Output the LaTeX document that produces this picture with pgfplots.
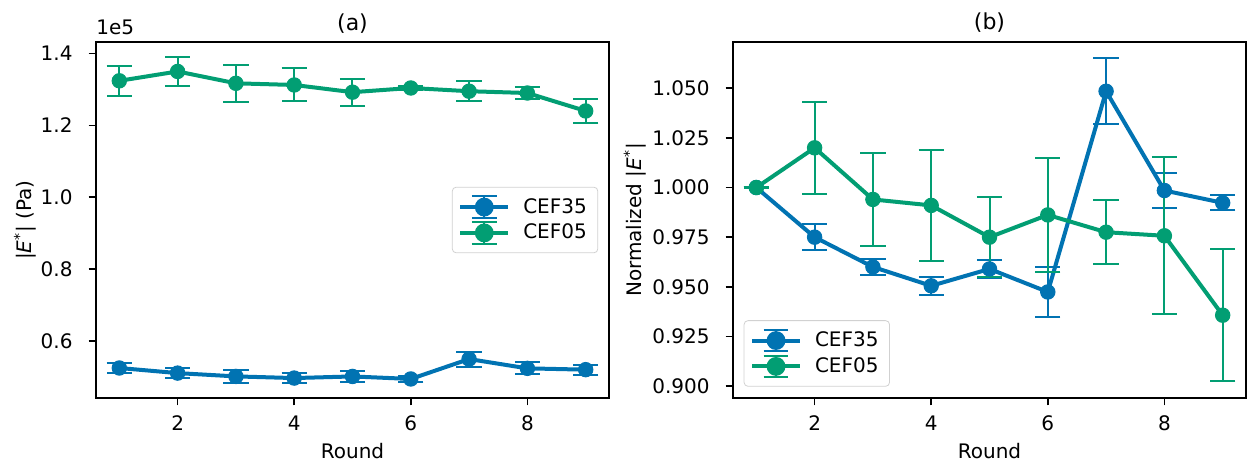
\documentclass[border=0pt]{standalone}
\usepackage{fontspec}
\setmainfont{DejaVu Sans}
\usepackage{pgfplots}
\pgfplotsset{compat=1.18}

\definecolor{cb1}{RGB}{1,115,178}
\definecolor{cb2}{RGB}{2,158,115}

\newcommand{\fs}{\fontsize{10}{12}\selectfont}

\pgfplotsset{
  ebleg/.style={legend image code/.code={
      \draw[#1, line width=2pt] (0pt,0pt) -- (24pt,0pt);
      \draw[#1, line width=1pt] (12pt,-5.4pt) -- (12pt,5.4pt);
      \draw[#1, line width=1pt] (5.8pt,5.4pt) -- (18.2pt,5.4pt);
      \draw[#1, line width=1pt] (5.8pt,-5.4pt) -- (18.2pt,-5.4pt);
      \fill[#1] (12pt,0pt) circle (3.7pt);
  }},
  series/.style={ebleg=#1, color=#1, line width=2pt, mark=*, mark size=3.6pt,
    mark options={solid, line width=0.5pt},
    error bars/.cd, y dir=both, y explicit,
    error bar style={line width=1pt, color=#1},
    error mark=-,
    error mark options={rotate=90, line width=1pt, mark size=6.3pt, color=#1},
    /pgfplots/.cd,
  },
  panel/.style={
    scale only axis, width=256.5pt, height=178pt,
    xmin=0.6, xmax=9.4, xtick={2,4,6,8}, xticklabels={},
    tick pos=left, tick align=outside,
    major tick length=3.7pt,
    axis line style={line width=0.8pt},
    every tick/.style={black, line width=0.8pt},
    font=\fs,
    /pgf/number format/assume math mode=true,
    yticklabel shift=4.5pt,
    xlabel={Round},
    xlabel style={at={(axis description cs:0.5,-0.171)}, anchor=base},
    every axis title shift=0pt,
    title style={at={(axis description cs:0.5,1)}, anchor=base, yshift=6pt,
      font=\fontsize{11}{13}\selectfont},
    legend cell align=left,
    legend style={draw=black!18, rounded corners=2pt, fill=white,
      font=\fs, inner sep=3pt, row sep=-1pt,
      nodes={inner sep=2.5pt},
      /tikz/every odd column/.append style={column sep=4pt}},
    % x tick numbers set a little further below the axis, as in the reference
    after end axis/.append code={
      \node[anchor=base, inner sep=0pt, font=\fs] at (axis description cs:0.1591,-0.0927) {2};
      \node[anchor=base, inner sep=0pt, font=\fs] at (axis description cs:0.3864,-0.0927) {4};
      \node[anchor=base, inner sep=0pt, font=\fs] at (axis description cs:0.6136,-0.0927) {6};
      \node[anchor=base, inner sep=0pt, font=\fs] at (axis description cs:0.8409,-0.0927) {8};
    },
  },
}

\begin{document}
\begin{tikzpicture}
\path[use as bounding box] (-48pt,-33.5pt) rectangle (575.5pt,199pt);

\begin{axis}[panel,
  at={(0pt,0pt)}, anchor=south west,
  title={(a)},
  ymin=44100, ymax=143200,
  ytick={60000,80000,100000,120000,140000},
  yticklabels={0.6,0.8,1.0,1.2,1.4},
  scaled y ticks=false,
  ylabel={|\textit{E}\textsuperscript{*}| (Pa)},
  ylabel style={at={(axis description cs:-0.138,0.5)}, anchor=center},
  legend style={at={(0.979,0.5)}, anchor=east},
  after end axis/.append code={
    \node[anchor=base west, inner sep=0pt, font=\fs]
      at (axis description cs:0,1.0216) {1e5};
  },
]
\addplot[series=cb1] table[x=x, y=y, y error=e] {
x y e
1 52450 1380
2 51030 1300
3 50110 1700
4 49650 1500
5 50100 1600
6 49400 900
7 54940 2100
8 52350 1660
9 51990 1380
};
\addlegendentry{CEF35}
\addplot[series=cb2] table[x=x, y=y, y error=e] {
x y e
1 132400 4230
2 135000 4000
3 131700 5160
4 131240 4600
5 129230 3800
6 130400 600
7 129500 2800
8 129000 1570
9 124000 3450
};
\addlegendentry{CEF05}
\end{axis}

\begin{axis}[panel,
  at={(318.5pt,0pt)}, anchor=south west,
  title={(b)},
  ymin=0.894, ymax=1.0733,
  ytick={0.900,0.925,0.950,0.975,1.000,1.025,1.050},
  yticklabel style={/pgf/number format/fixed,
    /pgf/number format/fixed zerofill, /pgf/number format/precision=3},
  ylabel={Normalized |\textit{E}\textsuperscript{*}|},
  ylabel style={at={(axis description cs:-0.191,0.5)}, anchor=center},
  legend style={at={(0.0207,0.0317)}, anchor=south west},
]
\addplot[series=cb1] table[x=x, y=y, y error=e] {
x y e
1 1.0000 0.0003
2 0.9750 0.0064
3 0.9600 0.0038
4 0.9505 0.0046
5 0.9590 0.0044
6 0.9474 0.0127
7 1.0485 0.0165
8 0.9985 0.0088
9 0.9923 0.0037
};
\addlegendentry{CEF35}
\addplot[series=cb2] table[x=x, y=y, y error=e] {
x y e
1 1.0000 0.0003
2 1.0200 0.0232
3 0.9940 0.0233
4 0.9910 0.0278
5 0.9750 0.0203
6 0.9862 0.0287
7 0.9775 0.0160
8 0.9757 0.0396
9 0.9357 0.0333
};
\addlegendentry{CEF05}
\end{axis}
\end{tikzpicture}
\end{document}
